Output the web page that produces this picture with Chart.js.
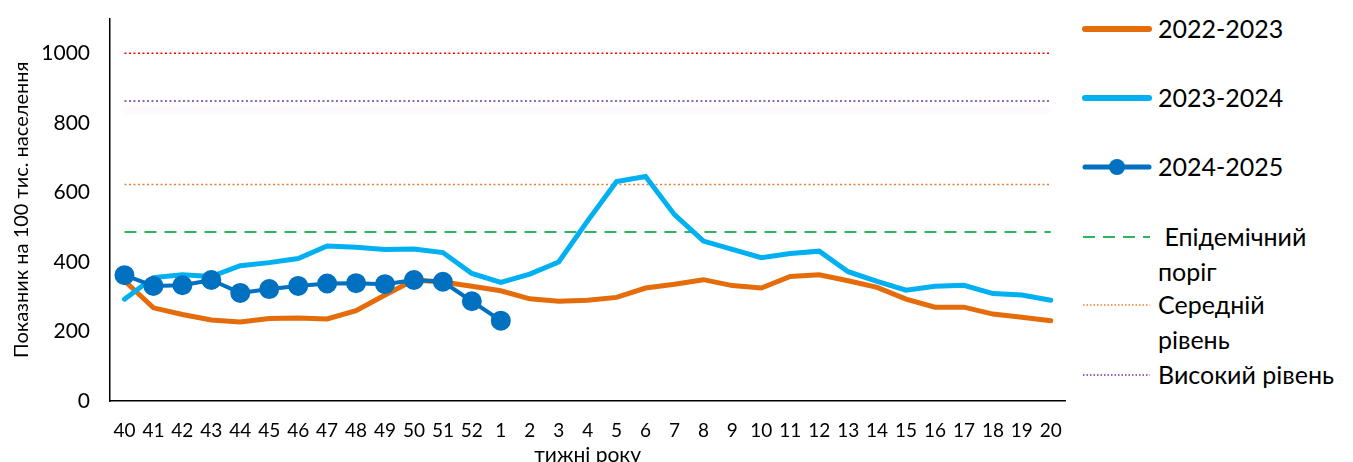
<!DOCTYPE html>
<html lang="uk">
<head>
<meta charset="utf-8">
<script src="https://cdn.jsdelivr.net/npm/chart.js@4/dist/chart.umd.min.js"></script>
<style>
  html, body { margin: 0; padding: 0; background: #fff; overflow: hidden; }
  #wrap { position: relative; width: 1353px; height: 462px; overflow: hidden; font-family: Lato, "Open Sans", sans-serif; }
  #chart-box { position: absolute; left: 0; top: -14px; width: 1080px; height: 482px; }
  #legend { position: absolute; left: 1082px; top: 0; width: 271px; height: 462px; }
  .item { position: absolute; left: 0; display: flex; align-items: flex-start; }
  .item svg { flex: none; }
  .item span { font-size: 25px; line-height: 35px; color: #000; margin-left: 6px; white-space: nowrap; }
</style>
</head>
<body>
<div id="wrap">
  <div id="chart-box"><canvas id="flu-chart"></canvas></div>
  <div id="legend"></div>
</div>
<script>
// тижні епідсезону
const weeks = ["40","41","42","43","44","45","46","47","48","49","50","51","52",
  "1","2","3","4","5","6","7","8","9","10","11","12","13","14","15","16","17","18","19","20"];

const season2022 = [346, 268, 249, 233, 227, 237, 239, 236, 260, 305, 348, 342, 330,
  317, 294, 287, 290, 298, 325, 336, 349, 332, 325, 358, 363, 346, 327, 293, 270, 270, 250, 241, 231];
const season2023 = [293, 355, 363, 358, 389, 398, 410, 446, 442, 436, 437, 427, 367,
  341, 365, 400, 518, 631, 646, 536, 460, 436, 412, 424, 431, 372, 344, 319, 330, 333, 309, 305, 290];
const season2024 = [362, 331, 333, 348, 311, 322, 331, 338, 339, 336, 348, 343, 287, 231];

// порогові рівні
const epidemicLevel = 486;
const mediumLevel = 623;
const highLevel = 863;
const veryHighLevel = 1000;

const yTicks = [0, 200, 400, 600, 800, 1000];

const flat = (v) => weeks.map(() => v);

const seriesStyle = [
  { label: "2022-2023", color: "#E46C0A", kind: "line" },
  { label: "2023-2024", color: "#00B0F0", kind: "line" },
  { label: "2024-2025", color: "#0070C0", kind: "marker" },
  { label: "Епідемічний поріг", color: "#2DB55D", kind: "dash" },
  { label: "Середній рівень", color: "#ED7D31", kind: "dot" },
  { label: "Високий рівень", color: "#7030A0", kind: "dot" },
];

// тінь під лінією високого рівня
const shadowPlugin = {
  id: "highShadow",
  beforeDatasetDraw(chart, args) {
    if (chart.data.datasets[args.index].label === "Високий рівень") {
      const ctx = chart.ctx;
      ctx.save();
      ctx.shadowColor = "rgba(112, 48, 160, 0.3)";
      ctx.shadowBlur = 5;
      ctx.shadowOffsetY = 9;
    }
  },
  afterDatasetDraw(chart, args) {
    if (chart.data.datasets[args.index].label === "Високий рівень") {
      chart.ctx.restore();
    }
  },
};

document.addEventListener("DOMContentLoaded", () => {
  const ctx = document.getElementById("flu-chart").getContext("2d");
  new Chart(ctx, {
    type: "line",
    data: {
      labels: weeks,
      datasets: [
        {
          label: "2024-2025",
          data: season2024,
          borderColor: "#0070C0",
          backgroundColor: "#0070C0",
          borderWidth: 4,
          pointRadius: 8,
          pointHoverRadius: 8,
          pointBackgroundColor: "#0070C0",
          pointBorderColor: "#0070C0",
          tension: 0,
        },
        {
          label: "2023-2024",
          data: season2023,
          borderColor: "#00B0F0",
          borderWidth: 5,
          pointRadius: 0,
          borderCapStyle: "round",
          tension: 0,
        },
        {
          label: "2022-2023",
          data: season2022,
          borderColor: "#E46C0A",
          borderWidth: 5,
          pointRadius: 0,
          borderCapStyle: "round",
          tension: 0,
        },
        {
          label: "Епідемічний поріг",
          data: flat(epidemicLevel),
          borderColor: "#2DB55D",
          borderWidth: 2,
          borderDash: [12, 8],
          pointRadius: 0,
        },
        {
          label: "Середній рівень",
          data: flat(mediumLevel),
          borderColor: "#ED7D31",
          borderWidth: 1.5,
          borderDash: [2, 2.5],
          pointRadius: 0,
        },
        {
          label: "Високий рівень",
          data: flat(highLevel),
          borderColor: "#7030A0",
          borderWidth: 1.5,
          borderDash: [2, 2.5],
          pointRadius: 0,
        },
        {
          label: "Дуже високий рівень",
          data: flat(veryHighLevel),
          borderColor: "#FF0000",
          borderWidth: 1.5,
          borderDash: [2, 2.5],
          pointRadius: 0,
        },
      ],
    },
    options: {
      responsive: true,
      maintainAspectRatio: false,
      animation: false,
      layout: { padding: { top: 0, right: 3, left: 0, bottom: 0 } },
      plugins: {
        legend: { display: false },
        tooltip: { enabled: false },
      },
      scales: {
        x: {
          offset: true,
          grid: { display: false, drawTicks: false },
          border: { display: true, color: "#000", width: 1.5 },
          ticks: {
            color: "#000",
            padding: 18,
            autoSkip: false,
            maxRotation: 0,
            font: { family: "Lato", size: 19 },
          },
          title: {
            display: true,
            text: "тижні року",
            color: "#000",
            padding: { top: 0, bottom: 0 },
            font: { family: "Lato", size: 21 },
          },
          afterFit: (scale) => { scale.height = 67; },
        },
        y: {
          min: 0,
          max: 1100,
          grid: { display: false, drawTicks: false },
          border: { display: true, color: "#000", width: 1.5 },
          afterBuildTicks: (scale) => {
            scale.ticks = yTicks.map((v) => ({ value: v }));
          },
          ticks: {
            color: "#000",
            padding: 20,
            font: { family: "Lato", size: 21 },
            callback: (v) => String(v),
          },
          title: {
            display: true,
            text: "Показник на 100 тис. населення",
            color: "#000",
            padding: { top: 10, bottom: 0 },
            font: { family: "Lato", size: 20 },
          },
          afterFit: (scale) => { scale.width = 110; },
        },
      },
    },
    plugins: [shadowPlugin],
  });

  // легенда праворуч
  const legend = document.getElementById("legend");
  const rows = [
    { top: 11, lines: ["2022-2023"] },
    { top: 80, lines: ["2023-2024"] },
    { top: 149, lines: ["2024-2025"] },
    { top: 219, lines: ["&nbsp;Епідемічний", "поріг"] },
    { top: 287, lines: ["Середній", "рівень"] },
    { top: 357, lines: ["Високий рівень"] },
  ];
  rows.forEach((row, i) => {
    const s = seriesStyle[i];
    let sample = "";
    if (s.kind === "line") {
      sample = `<line x1="3" y1="18" x2="67" y2="18" stroke="${s.color}" stroke-width="6" stroke-linecap="round"/>`;
    } else if (s.kind === "marker") {
      sample = `<line x1="3" y1="18" x2="67" y2="18" stroke="${s.color}" stroke-width="5" stroke-linecap="round"/>
        <circle cx="35" cy="18" r="8" fill="${s.color}"/>`;
    } else if (s.kind === "dash") {
      sample = `<line x1="1" y1="18" x2="68" y2="18" stroke="${s.color}" stroke-width="2" stroke-dasharray="12 8"/>`;
    } else {
      sample = `<line x1="1" y1="18" x2="68" y2="18" stroke="${s.color}" stroke-width="1.5" stroke-dasharray="1.5 2"/>`;
    }
    const div = document.createElement("div");
    div.className = "item";
    div.style.top = row.top + "px";
    div.innerHTML = `<svg width="70" height="35">${sample}</svg><span>${row.lines.join("<br>")}</span>`;
    legend.appendChild(div);
  });
});
</script>
</body>
</html>
